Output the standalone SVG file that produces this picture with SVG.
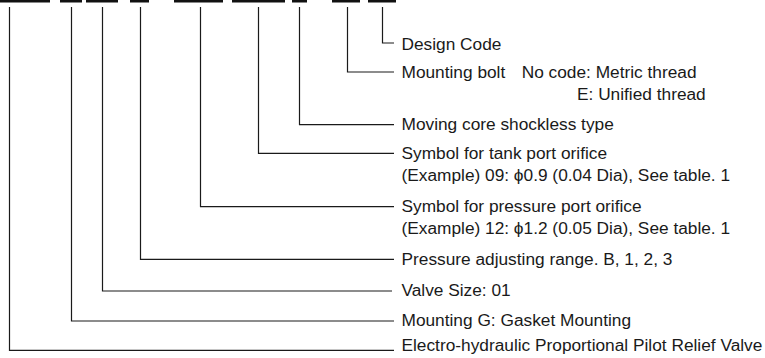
<svg xmlns="http://www.w3.org/2000/svg" width="765" height="358" viewBox="0 0 765 358">
<style>
.t{font-family:"Liberation Sans",Arial,sans-serif;font-size:17.3px;fill:#1a1a1a}
.c{fill:none;stroke:#1a1a1a;stroke-width:1.2}
.b{fill:#111}
</style>
<rect width="765" height="358" fill="#fff"/>
<g id="code-bars">
<rect class="b" x="0" y="0" width="50" height="2.5"/>
<rect class="b" x="60" y="0" width="22" height="2.5"/>
<rect class="b" x="86" y="0" width="32" height="2.5"/>
<rect class="b" x="130" y="0" width="19" height="2.5"/>
<rect class="b" x="174" y="0" width="49" height="2.5"/>
<rect class="b" x="232" y="0" width="53" height="2.5"/>
<rect class="b" x="292" y="0" width="15" height="2.5"/>
<rect class="b" x="332" y="0" width="28" height="2.5"/>
<rect class="b" x="368" y="0" width="28" height="2.5"/>
</g>
<g id="connectors">
<path class="c" d="M382.5 7V43H394"/>
<path class="c" d="M347.5 7V72H394"/>
<path class="c" d="M299.5 7V124.7H394"/>
<path class="c" d="M258.5 7V153.3H394"/>
<path class="c" d="M200.5 7V206.7H394"/>
<path class="c" d="M140.5 7V259.3H394"/>
<path class="c" d="M102.5 7V291H392"/>
<path class="c" d="M71.5 7V321H394"/>
<path class="c" d="M9.5 7V350.3H394"/>
</g>
<g id="design-code"><text class="t" x="401.5" y="49.5">Design Code</text></g>
<g id="mounting-bolt">
<text class="t" x="401.5" y="77.5">Mounting bolt</text>
<text class="t" x="521.7" y="77.5">No code: Metric thread</text>
<text class="t" x="577" y="100">E: Unified thread</text>
</g>
<g id="moving-core"><text class="t" x="401.5" y="130">Moving core shockless type</text></g>
<g id="tank-port">
<text class="t" x="401.5" y="158.5">Symbol for tank port orifice</text>
<text class="t" x="401.5" y="181">(Example) 09: ϕ0.9 (0.04 Dia), See table. 1</text>
</g>
<g id="pressure-port">
<text class="t" x="401.5" y="211.5">Symbol for pressure port orifice</text>
<text class="t" x="401.5" y="234">(Example) 12: ϕ1.2 (0.05 Dia), See table. 1</text>
</g>
<g id="pressure-range"><text class="t" x="401.5" y="264.5">Pressure adjusting range. B, 1, 2, 3</text></g>
<g id="valve-size"><text class="t" x="401.5" y="296">Valve Size: 01</text></g>
<g id="mounting"><text class="t" x="401.5" y="325.5">Mounting G: Gasket Mounting</text></g>
<g id="valve-type"><text class="t" x="401.5" y="350.5">Electro-hydraulic Proportional Pilot Relief Valve</text></g>
</svg>
